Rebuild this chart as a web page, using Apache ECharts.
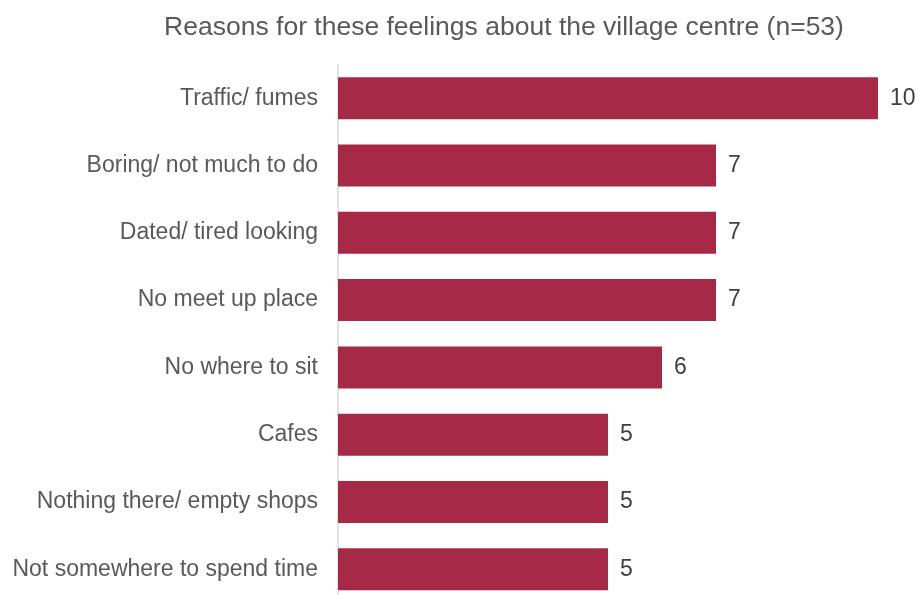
<!DOCTYPE html>
<html>
<head>
<meta charset="utf-8">
<script src="https://cdn.jsdelivr.net/npm/echarts@6/dist/echarts.min.js"></script>
<style>
  html, body { margin: 0; padding: 0; background: #fff; overflow: hidden; }
  #chart { width: 918px; height: 603px; }
</style>
</head>
<body>
<div id="chart"></div>
<script>
// Reasons given, listed top to bottom
const categories = [
  'Traffic/ fumes',
  'Boring/ not much to do',
  'Dated/ tired looking',
  'No meet up place',
  'No where to sit',
  'Cafes',
  'Nothing there/ empty shops',
  'Not somewhere to spend time'
];
const counts = [10, 7, 7, 7, 6, 5, 5, 5];

const chart = echarts.init(document.getElementById('chart'), null, { renderer: 'canvas' });
chart.setOption({
  animation: false,
  backgroundColor: '#ffffff',
  title: {
    text: 'Reasons for these feelings about the village centre (n=53)',
    left: 499,
    textAlign: 'center',
    top: 9,
    textStyle: {
      fontFamily: 'Liberation Sans, Arial, sans-serif',
      fontSize: 26.5,
      fontWeight: 'normal',
      color: '#595959'
    }
  },
  grid: { left: 338, top: 64.5, right: 40, bottom: 0, containLabel: false },
  xAxis: {
    type: 'value',
    min: 0,
    max: 10,
    show: false
  },
  yAxis: {
    type: 'category',
    data: categories,
    inverse: true,
    axisLine: { show: true, lineStyle: { color: '#d9d9d9', width: 1.5 } },
    axisTick: { show: false },
    axisLabel: {
      margin: 20,
      fontFamily: 'Liberation Sans, Arial, sans-serif',
      fontSize: 23,
      color: '#595959'
    }
  },
  series: [{
    type: 'bar',
    data: counts,
    barWidth: 42,
    itemStyle: { color: '#A62A48' },
    label: {
      show: true,
      position: 'right',
      distance: 12,
      fontFamily: 'Liberation Sans, Arial, sans-serif',
      fontSize: 23,
      color: '#404040'
    }
  }]
});
</script>
</body>
</html>
